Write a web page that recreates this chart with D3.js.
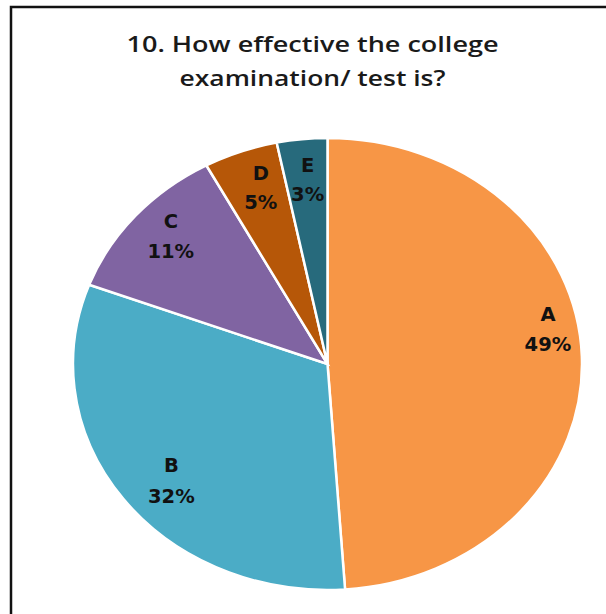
<!DOCTYPE html>
<html>
<head>
<meta charset="utf-8">
<script src="https://cdn.jsdelivr.net/npm/d3@7"></script>
<style>
    body { margin: 0; background: #fff; }
    svg { display: block; }
</style>
</head>
<body>
<div id="chart"></div>
<script>
// Answer categories and their share of responses (%)
const categories = ["A", "B", "C", "D", "E"];
const shares = [48.9, 31.8, 11.4, 4.7, 3.2];
const colors = ["#F79646", "#4BACC6", "#8064A2", "#B65708", "#276A7C"];
const titleLines = ["10. How effective the college", "examination/ test is?"];

// label placement (Excel "best fit" look): angle nudge in degrees, radius fraction
const labelNudge = [-8.2, -3.2, 1.6, 1.4, 0.3];
const labelRadius = [0.88, 0.80, 0.837, 0.822, 0.819];

const width = 606, height = 614;

const svg = d3.select("#chart")
    .append("svg")
    .attr("width", width)
    .attr("height", height);

// chart frame (only top and left edges show in the crop)
svg.append("rect")
    .attr("x", 11)
    .attr("y", 7)
    .attr("width", 700)
    .attr("height", 700)
    .attr("fill", "none")
    .attr("stroke", "#111")
    .attr("stroke-width", 2.5);

// title is stretched horizontally like the rest of the picture
const titleWidths = [372, 266];
svg.append("g")
    .attr("font-family", "'Open Sans', Lato, sans-serif")
    .attr("font-weight", 600)
    .attr("font-size", 22)
    .attr("fill", "#1a1a1a")
    .attr("text-anchor", "middle")
    .selectAll("text")
    .data(titleLines)
    .join("text")
    .attr("x", 312.5)
    .attr("y", (d, i) => 52 + i * 33.5)
    .attr("textLength", (d, i) => titleWidths[i])
    .attr("lengthAdjust", "spacingAndGlyphs")
    .text(d => d);

// the pie is stretched horizontally in the reference
const cx = 327.5, cy = 364, rx = 254.5, ry = 226;

const pie = d3.pie().sort(null).value(d => d);
const arcs = pie(shares);
const arc = d3.arc().innerRadius(0).outerRadius(ry);

svg.append("g")
    .attr("transform", `translate(${cx},${cy}) scale(${rx / ry},1)`)
    .selectAll("path")
    .data(arcs)
    .join("path")
    .attr("d", arc)
    .attr("fill", (d, i) => colors[i])
    .attr("stroke", "#fff")
    .attr("stroke-width", 2.5)
    .attr("vector-effect", "non-scaling-stroke");

const labels = svg.append("g")
    .attr("font-family", "'DejaVu Sans', Verdana, sans-serif")
    .attr("font-weight", "bold")
    .attr("font-size", 19.5)
    .attr("fill", "#111")
    .attr("text-anchor", "middle")
    .selectAll("text")
    .data(arcs)
    .join("text")
    .attr("transform", (d, i) => {
        const a = (d.startAngle + d.endAngle) / 2 + labelNudge[i] * Math.PI / 180;
        const x = cx + Math.sin(a) * rx * labelRadius[i];
        const y = cy - Math.cos(a) * ry * labelRadius[i];
        return `translate(${x},${y})`;
    });

labels.append("tspan")
    .attr("x", 0)
    .attr("y", (d, i) => i > 2 ? -7.5 : -8)
    .text((d, i) => categories[i]);

labels.append("tspan")
    .attr("x", 0)
    .attr("y", (d, i) => i > 2 ? 21.5 : 22.5)
    .text(d => Math.round(d.data) + "%");
</script>
</body>
</html>
